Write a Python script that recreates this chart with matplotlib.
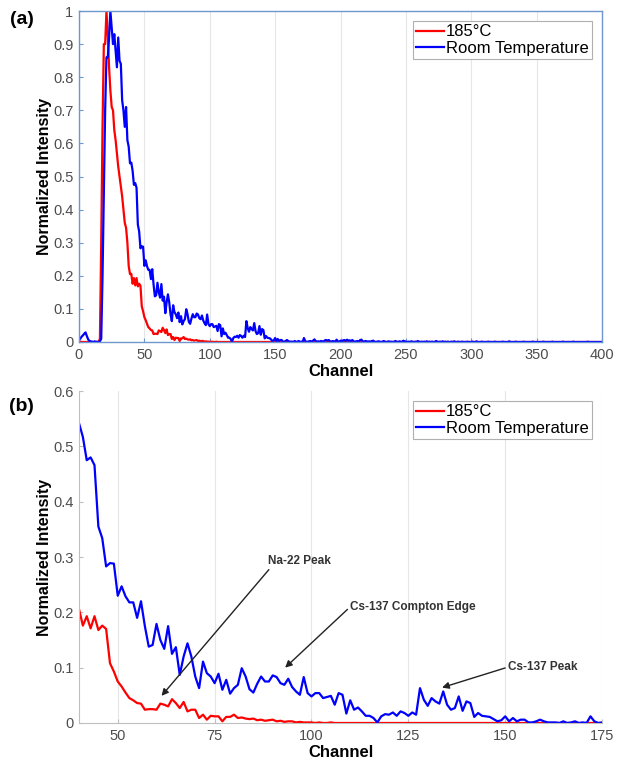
import numpy as np
import matplotlib
matplotlib.use("Agg")
import matplotlib.pyplot as plt

plt.rcParams['font.family'] = ['Liberation Sans', 'DejaVu Sans']

# spectrum values per channel
blue_rt = [
    0.006, 0.010, 0.016, 0.020, 0.025, 0.029, 0.018, 0.008, 0.003, 0.002,   # 0
    0.001, 0.000, 0.002, 0.000, 0.001, 0.000, 0.002, 0.010, 0.200, 0.450,   # 10
    0.700, 0.860, 0.860, 0.920, 1.000, 0.950, 0.900, 0.930, 0.880, 0.830,   # 20
    0.920, 0.850, 0.840, 0.730, 0.700, 0.650, 0.710, 0.610, 0.590, 0.540,   # 30
    0.542, 0.517, 0.475, 0.480, 0.466, 0.355, 0.334, 0.283, 0.289, 0.288,   # 40
    0.230, 0.247, 0.229, 0.218, 0.218, 0.190, 0.220, 0.175, 0.138, 0.141,   # 50
    0.179, 0.150, 0.134, 0.175, 0.125, 0.137, 0.087, 0.120, 0.144, 0.120,   # 60
    0.084, 0.063, 0.111, 0.090, 0.084, 0.072, 0.089, 0.060, 0.078, 0.053,   # 70
    0.063, 0.069, 0.099, 0.084, 0.061, 0.055, 0.071, 0.084, 0.075, 0.075,   # 80
    0.086, 0.083, 0.072, 0.069, 0.080, 0.065, 0.057, 0.051, 0.083, 0.054,   # 90
    0.048, 0.054, 0.054, 0.045, 0.047, 0.049, 0.033, 0.054, 0.051, 0.017,   # 100
    0.041, 0.024, 0.028, 0.021, 0.013, 0.013, 0.009, 0.001, 0.012, 0.016,   # 110
    0.015, 0.019, 0.013, 0.021, 0.018, 0.013, 0.019, 0.015, 0.063, 0.042,   # 120
    0.031, 0.045, 0.039, 0.035, 0.057, 0.033, 0.024, 0.027, 0.048, 0.022,   # 130
    0.039, 0.036, 0.011, 0.018, 0.013, 0.012, 0.011, 0.007, 0.003, 0.005,   # 140
    0.012, 0.003, 0.009, 0.003, 0.006, 0.006, 0.001, 0.001, 0.003, 0.006,   # 150
    0.003, 0.001, 0.001, 0.001, 0.000, 0.003, 0.000, 0.001, 0.003, 0.000,   # 160
    0.001, 0.000, 0.012, 0.003, 0.000, 0.001, 0.002, 0.003, 0.001, 0.004,   # 170
    0.008, 0.003, 0.001, 0.002, 0.001, 0.003, 0.002, 0.001, 0.005, 0.006,   # 180
    0.004, 0.006, 0.002, 0.001, 0.003, 0.002, 0.001, 0.007, 0.002, 0.001,   # 190
    0.004, 0.002, 0.005, 0.006, 0.003, 0.007, 0.004, 0.005, 0.003, 0.006,   # 200
    0.002, 0.001, 0.002, 0.003, 0.001, 0.006, 0.007, 0.002, 0.001, 0.003,   # 210
    0.002, 0.001, 0.002, 0.001, 0.003, 0.004, 0.001, 0.000, 0.001, 0.002,   # 220
    0.001, 0.000, 0.001, 0.003, 0.001, 0.000, 0.001, 0.002, 0.000, 0.001,   # 230
    0.000, 0.001, 0.003, 0.001, 0.000, 0.002, 0.001, 0.000, 0.004, 0.002,   # 240
    0.001, 0.000, 0.001, 0.000, 0.002, 0.001, 0.000, 0.001, 0.000, 0.003,   # 250
    0.001, 0.000, 0.001, 0.000, 0.001, 0.000, 0.002, 0.000, 0.001, 0.000,   # 260
    0.001, 0.000, 0.000, 0.003, 0.001, 0.000, 0.001, 0.000, 0.002, 0.000,   # 270
    0.001, 0.000, 0.001, 0.000, 0.000, 0.001, 0.000, 0.002, 0.000, 0.000,   # 280
    0.001, 0.000, 0.000, 0.001, 0.000, 0.000, 0.000, 0.001, 0.000, 0.000,   # 290
    0.000, 0.001, 0.000, 0.000, 0.002, 0.000, 0.000, 0.000, 0.001, 0.000,   # 300
    0.000, 0.000, 0.000, 0.001, 0.000, 0.000, 0.000, 0.000, 0.001, 0.000,   # 310
    0.000, 0.000, 0.000, 0.000, 0.001, 0.000, 0.000, 0.000, 0.000, 0.002,   # 320
    0.000, 0.000, 0.000, 0.000, 0.001, 0.000, 0.000, 0.000, 0.000, 0.000,   # 330
    0.001, 0.000, 0.000, 0.000, 0.000, 0.000, 0.000, 0.001, 0.000, 0.000,   # 340
    0.000, 0.000, 0.000, 0.000, 0.000, 0.001, 0.000, 0.000, 0.000, 0.000,   # 350
    0.000, 0.000, 0.001, 0.000, 0.000, 0.000, 0.000, 0.000, 0.000, 0.000,   # 360
    0.001, 0.000, 0.000, 0.000, 0.000, 0.000, 0.000, 0.000, 0.001, 0.000,   # 370
    0.000, 0.000, 0.000, 0.000, 0.000, 0.000, 0.000, 0.000, 0.000, 0.001,   # 380
    0.000, 0.000, 0.000, 0.000, 0.000, 0.000, 0.000, 0.000, 0.000, 0.000,   # 390
    0.000,                                                                  # 400
]

red_185 = [
    0.002, 0.001, 0.000, 0.000, 0.000, 0.000, 0.000, 0.000, 0.000, 0.000,   # 0
    0.000, 0.000, 0.000, 0.000, 0.000, 0.000, 0.010, 0.300, 0.650, 0.900,   # 10
    0.900, 1.000, 0.930, 0.830, 0.760, 0.710, 0.700, 0.640, 0.610, 0.570,   # 20
    0.530, 0.500, 0.470, 0.440, 0.400, 0.360, 0.345, 0.300, 0.230, 0.205,   # 30
    0.206, 0.176, 0.193, 0.171, 0.193, 0.168, 0.176, 0.170, 0.108, 0.093,   # 40
    0.075, 0.066, 0.055, 0.045, 0.041, 0.036, 0.035, 0.024, 0.025, 0.025,   # 50
    0.024, 0.035, 0.033, 0.030, 0.043, 0.036, 0.027, 0.038, 0.021, 0.024,   # 60
    0.024, 0.009, 0.015, 0.006, 0.013, 0.012, 0.012, 0.003, 0.011, 0.011,   # 70
    0.015, 0.009, 0.010, 0.008, 0.007, 0.008, 0.005, 0.006, 0.004, 0.005,   # 80
    0.006, 0.003, 0.004, 0.002, 0.003, 0.003, 0.001, 0.002, 0.001, 0.001,   # 90
    0.001, 0.000, 0.001, 0.000, 0.000, 0.001, 0.000, 0.000, 0.000, 0.000,   # 100
    0.000, 0.000, 0.000, 0.000, 0.000, 0.000, 0.000, 0.000, 0.000, 0.000,   # 110
    0.000, 0.000, 0.000, 0.000, 0.000, 0.000, 0.000, 0.000, 0.000, 0.000,   # 120
    0.000, 0.000, 0.000, 0.000, 0.000, 0.000, 0.000, 0.000, 0.000, 0.000,   # 130
    0.000, 0.000, 0.000, 0.000, 0.000, 0.000, 0.000, 0.000, 0.000, 0.000,   # 140
    0.000, 0.000, 0.000, 0.000, 0.000, 0.000, 0.000, 0.000, 0.000, 0.000,   # 150
    0.000, 0.000, 0.000, 0.000, 0.000, 0.000, 0.000, 0.000, 0.000, 0.000,   # 160
    0.000, 0.000, 0.000, 0.000, 0.000, 0.000, 0.000, 0.000, 0.000, 0.000,   # 170
    0.000, 0.000, 0.000, 0.000, 0.000, 0.000, 0.000, 0.000, 0.000, 0.000,   # 180
    0.000, 0.000, 0.000, 0.000, 0.000, 0.000, 0.000, 0.000, 0.000, 0.000,   # 190
    0.000, 0.000, 0.000, 0.000, 0.000, 0.000, 0.000, 0.000, 0.000, 0.000,   # 200
    0.000, 0.000, 0.000, 0.000, 0.000, 0.000, 0.000, 0.000, 0.000, 0.000,   # 210
    0.000, 0.000, 0.000, 0.000, 0.000, 0.000, 0.000, 0.000, 0.000, 0.000,   # 220
    0.000, 0.000, 0.000, 0.000, 0.000, 0.000, 0.000, 0.000, 0.000, 0.000,   # 230
    0.000, 0.000, 0.000, 0.000, 0.000, 0.000, 0.000, 0.000, 0.000, 0.000,   # 240
    0.000, 0.000, 0.000, 0.000, 0.000, 0.000, 0.000, 0.000, 0.000, 0.000,   # 250
    0.000, 0.000, 0.000, 0.000, 0.000, 0.000, 0.000, 0.000, 0.000, 0.000,   # 260
    0.000, 0.000, 0.000, 0.000, 0.000, 0.000, 0.000, 0.000, 0.000, 0.000,   # 270
    0.000, 0.000, 0.000, 0.000, 0.000, 0.000, 0.000, 0.000, 0.000, 0.000,   # 280
    0.000, 0.000, 0.000, 0.000, 0.000, 0.000, 0.000, 0.000, 0.000, 0.000,   # 290
    0.000, 0.000, 0.000, 0.000, 0.000, 0.000, 0.000, 0.000, 0.000, 0.000,   # 300
    0.000, 0.000, 0.000, 0.000, 0.000, 0.000, 0.000, 0.000, 0.000, 0.000,   # 310
    0.000, 0.000, 0.000, 0.000, 0.000, 0.000, 0.000, 0.000, 0.000, 0.000,   # 320
    0.000, 0.000, 0.000, 0.000, 0.000, 0.000, 0.000, 0.000, 0.000, 0.000,   # 330
    0.000, 0.000, 0.000, 0.000, 0.000, 0.000, 0.000, 0.000, 0.000, 0.000,   # 340
    0.000, 0.000, 0.000, 0.000, 0.000, 0.000, 0.000, 0.000, 0.000, 0.000,   # 350
    0.000, 0.000, 0.000, 0.000, 0.000, 0.000, 0.000, 0.000, 0.000, 0.000,   # 360
    0.000, 0.000, 0.000, 0.000, 0.000, 0.000, 0.000, 0.000, 0.000, 0.000,   # 370
    0.000, 0.000, 0.000, 0.000, 0.000, 0.000, 0.000, 0.000, 0.000, 0.000,   # 380
    0.000, 0.000, 0.000, 0.000, 0.000, 0.000, 0.000, 0.000, 0.000, 0.000,   # 390
    0.000,                                                                  # 400
]

series_labels = ['185°C', 'Room Temperature']
ticks_a_x = [0, 50, 100, 150, 200, 250, 300, 350, 400]
ticks_a_y = [0, 0.1, 0.2, 0.3, 0.4, 0.5, 0.6, 0.7, 0.8, 0.9, 1]
ticks_b_x = [50, 75, 100, 125, 150, 175]
ticks_b_y = [0, 0.1, 0.2, 0.3, 0.4, 0.5, 0.6]

# annotations: text, text position, arrow tip
peak_notes = [
    ('Na-22 Peak', (88.8, 0.293), (61.3, 0.049)),
    ('Cs-137 Compton Edge', (110.0, 0.210), (93.2, 0.100)),
    ('Cs-137 Peak', (150.7, 0.101), (133.7, 0.064)),
]

RED = '#ff0000'
BLUE = '#0000ff'
TICK_COLOR = '#4d4d4d'


def fmt(v):
    return '%g' % v


def style_axes(ax, xticks, yticks, spine_color):
    ax.set_xticks(xticks)
    ax.set_xticklabels([fmt(v) for v in xticks])
    ax.set_yticks(yticks)
    ax.set_yticklabels([fmt(v) for v in yticks])
    ax.tick_params(direction='in', length=3, width=0.8, color=spine_color,
                   labelcolor=TICK_COLOR, labelsize=10.5, pad=4)
    ax.grid(axis='x', color='#e6e6e6', linewidth=0.8)
    ax.set_axisbelow(True)
    ax.set_xlabel('Channel', fontsize=12, fontweight='bold', labelpad=2)
    ax.set_ylabel('Normalized Intensity', fontsize=11.5, fontweight='bold', labelpad=1)
    leg = ax.legend(loc='upper right', fontsize=12, handlelength=1.7, handletextpad=0.1,
                    borderpad=0.2, labelspacing=0.1, fancybox=False, framealpha=1,
                    borderaxespad=0.6)
    leg.get_frame().set_edgecolor('#b0b0b0')
    leg.get_frame().set_linewidth(0.8)


fig = plt.figure(figsize=(6.22, 7.60), dpi=100)
ax1 = fig.add_axes([0.127, 0.550, 0.841, 0.4355])
ax2 = fig.add_axes([0.127, 0.0487, 0.841, 0.4368])

x_red = np.arange(len(red_185))
x_blue = np.arange(len(blue_rt))

# (a) full spectrum
ax1.plot(x_red, red_185, color=RED, linewidth=1.6, label=series_labels[0])
ax1.plot(x_blue, blue_rt, color=BLUE, linewidth=1.6, label=series_labels[1])
ax1.set_xlim(0, 400)
ax1.set_ylim(0, 1)
for s in ax1.spines.values():
    s.set_color('#6f96cf')
    s.set_linewidth(1.0)
style_axes(ax1, ticks_a_x, ticks_a_y, '#6f96cf')

# (b) zoom on 40-175
ax2.plot(x_red, red_185, color=RED, linewidth=1.6, label=series_labels[0])
ax2.plot(x_blue, blue_rt, color=BLUE, linewidth=1.6, label=series_labels[1])
ax2.set_xlim(40, 175)
ax2.set_ylim(0, 0.6)
ax2.spines['top'].set_visible(False)
ax2.spines['right'].set_visible(False)
ax2.spines['left'].set_color('#bfbfbf')
ax2.spines['bottom'].set_color('#bfbfbf')
style_axes(ax2, ticks_b_x, ticks_b_y, '#bfbfbf')

for txt, pos, tip in peak_notes:
    ax2.annotate(txt, xy=tip, xytext=pos, fontsize=8.5, fontweight='bold',
                 color='#333333', ha='left', va='center',
                 arrowprops=dict(arrowstyle='-|>', color='#222222', linewidth=1.0,
                                 mutation_scale=10, shrinkA=0, shrinkB=0,
                                 relpos=(0, 0.5) if txt != 'Na-22 Peak' else (0.05, 0)))

fig.text(0.035, 0.974, '(a)', fontsize=14, fontweight='bold', ha='center', va='center')
fig.text(0.035, 0.465, '(b)', fontsize=14, fontweight='bold', ha='center', va='center')

fig.savefig('out.png', dpi=100)
